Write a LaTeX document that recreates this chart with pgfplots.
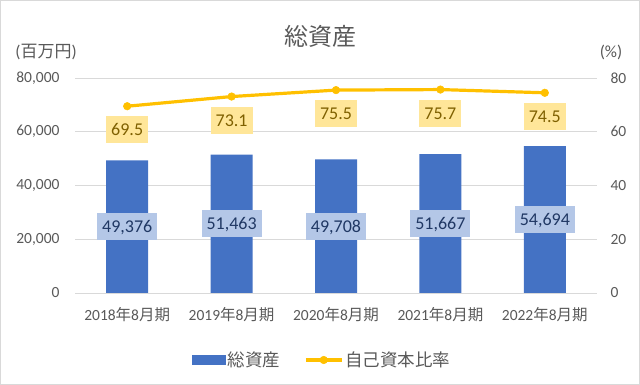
\documentclass[border=0pt]{standalone}
\usepackage{pgfplots}
\usepackage{pgfplotstable}
\pgfplotsset{compat=1.18}
\usepackage{fontspec}
\setmainfont{Carlito}
\newfontfamily\cjk{Noto Sans CJK JP}
\definecolor{barblue}{HTML}{4472C4}
\definecolor{lineyel}{HTML}{FFC000}
\definecolor{gridgray}{HTML}{D9D9D9}
\definecolor{txtgray}{HTML}{595959}
\definecolor{lblblue}{HTML}{B4C7E7}
\definecolor{lblyel}{HTML}{FFE699}
\definecolor{lbltxtb}{HTML}{203864}
\definecolor{lbltxty}{HTML}{7F6000}

\pgfplotstableread{
x v r
0 49376 69.5
1 51463 73.1
2 49708 75.5
3 51667 75.7
4 54694 74.5
}\datatable

\newcommand\tickfont{\fontsize{15.5bp}{18bp}\selectfont}
\newcommand\lblfont{\fontsize{18bp}{21bp}\selectfont}

\pgfplotsset{
 common/.style={
  scale only axis, width=522bp, height=215bp,
  at={(75bp,92bp)}, anchor=south west,
  xmin=-0.5, xmax=4.5, ymin=0,
  major tick length=0pt,
  axis line style={draw=none},
  tick label style={font=\tickfont, text=txtgray},
  /pgf/number format/assume math mode=true,
 },
 linelegend/.style={legend image code/.code={\draw[##1, mark repeat=2, mark phase=2] plot coordinates {(0bp,0bp) (18bp,0bp) (36bp,0bp)};}},
 barlegend/.style={legend image code/.code={\fill[barblue] (0bp,-5bp) rectangle (34bp,5bp);}},
}

\begin{document}
\begin{tikzpicture}
\useasboundingbox (0,0) rectangle (640bp,385bp);
\draw[gridgray, line width=1bp] (0.5bp,0.5bp) rectangle (639.5bp,384.5bp);
\begin{axis}[common, ymax=80000, ytick={0,20000,...,80000},
  scaled y ticks=false,
  yticklabel style={/pgf/number format/1000 sep={,}, /pgf/number format/fixed, xshift=-12bp},
  ymajorgrids, major grid style={gridgray, line width=1bp},
  xtick={0,...,4},
  xticklabels={2018{\cjk 年}8{\cjk 月期},2019{\cjk 年}8{\cjk 月期},2020{\cjk 年}8{\cjk 月期},2021{\cjk 年}8{\cjk 月期},2022{\cjk 年}8{\cjk 月期}},
  xticklabel style={yshift=-11bp},
  legend style={draw=none, fill=none, at={(0.5,0)}, anchor=center, yshift=-67bp, xshift=-14bp,
    legend columns=2, font=\cjk\fontsize{17.5bp}{20bp}\selectfont, text=txtgray,
    /tikz/every even column/.append style={column sep=22bp}},
  legend cell align=left,
]
\addplot[ybar, bar width=42bp, fill=barblue, draw=none, barlegend]
  table[x=x, y=v]{\datatable};
\addlegendentry{総資産}
\addlegendimage{lineyel, line width=3.2bp, mark=*, mark size=3.8bp, mark options={solid, line width=0.5bp}, linelegend}
\addlegendentry{自己資本比率}
\addplot[draw=none, mark=none, forget plot, point meta=explicit,
  nodes near coords={\pgfmathprintnumber[fixed, precision=0, 1000 sep={,}]{\pgfplotspointmeta}},
  every node near coord/.append style={anchor=center, fill=lblblue, text=lbltxtb, font=\lblfont,
    inner xsep=5bp, inner ysep=7.5bp, text height=12bp, text depth=0bp}]
  table[x=x, y expr=\thisrow{v}/2, meta=v]{\datatable};
\end{axis}
\begin{axis}[common, ymax=80, ytick={0,20,...,80},
  axis y line*=right, axis x line=none,
  yticklabel style={xshift=10bp}]
\addplot[lineyel, line width=3.2bp, mark=*, mark size=3.8bp, mark options={solid, line width=0.5bp},
  point meta=explicit,
  nodes near coords={\pgfmathprintnumber[fixed, fixed zerofill, precision=1]{\pgfplotspointmeta}},
  every node near coord/.append style={anchor=north, yshift=-10bp, fill=lblyel, text=lbltxty, font=\lblfont,
    inner xsep=5bp, inner ysep=7.5bp, text height=12bp, text depth=0bp}]
  table[x=x, y=r, meta=r]{\datatable};
\end{axis}
\node[font=\cjk\fontsize{24bp}{27bp}\selectfont, text=txtgray] at (320bp,349bp) {総資産};
\node[font=\fontsize{17bp}{20bp}\selectfont, text=txtgray] at (46bp,333bp) {({\cjk 百万円})};
\node[font=\fontsize{17bp}{20bp}\selectfont, text=txtgray] at (611bp,333bp) {(\%)};
\end{tikzpicture}
\end{document}
